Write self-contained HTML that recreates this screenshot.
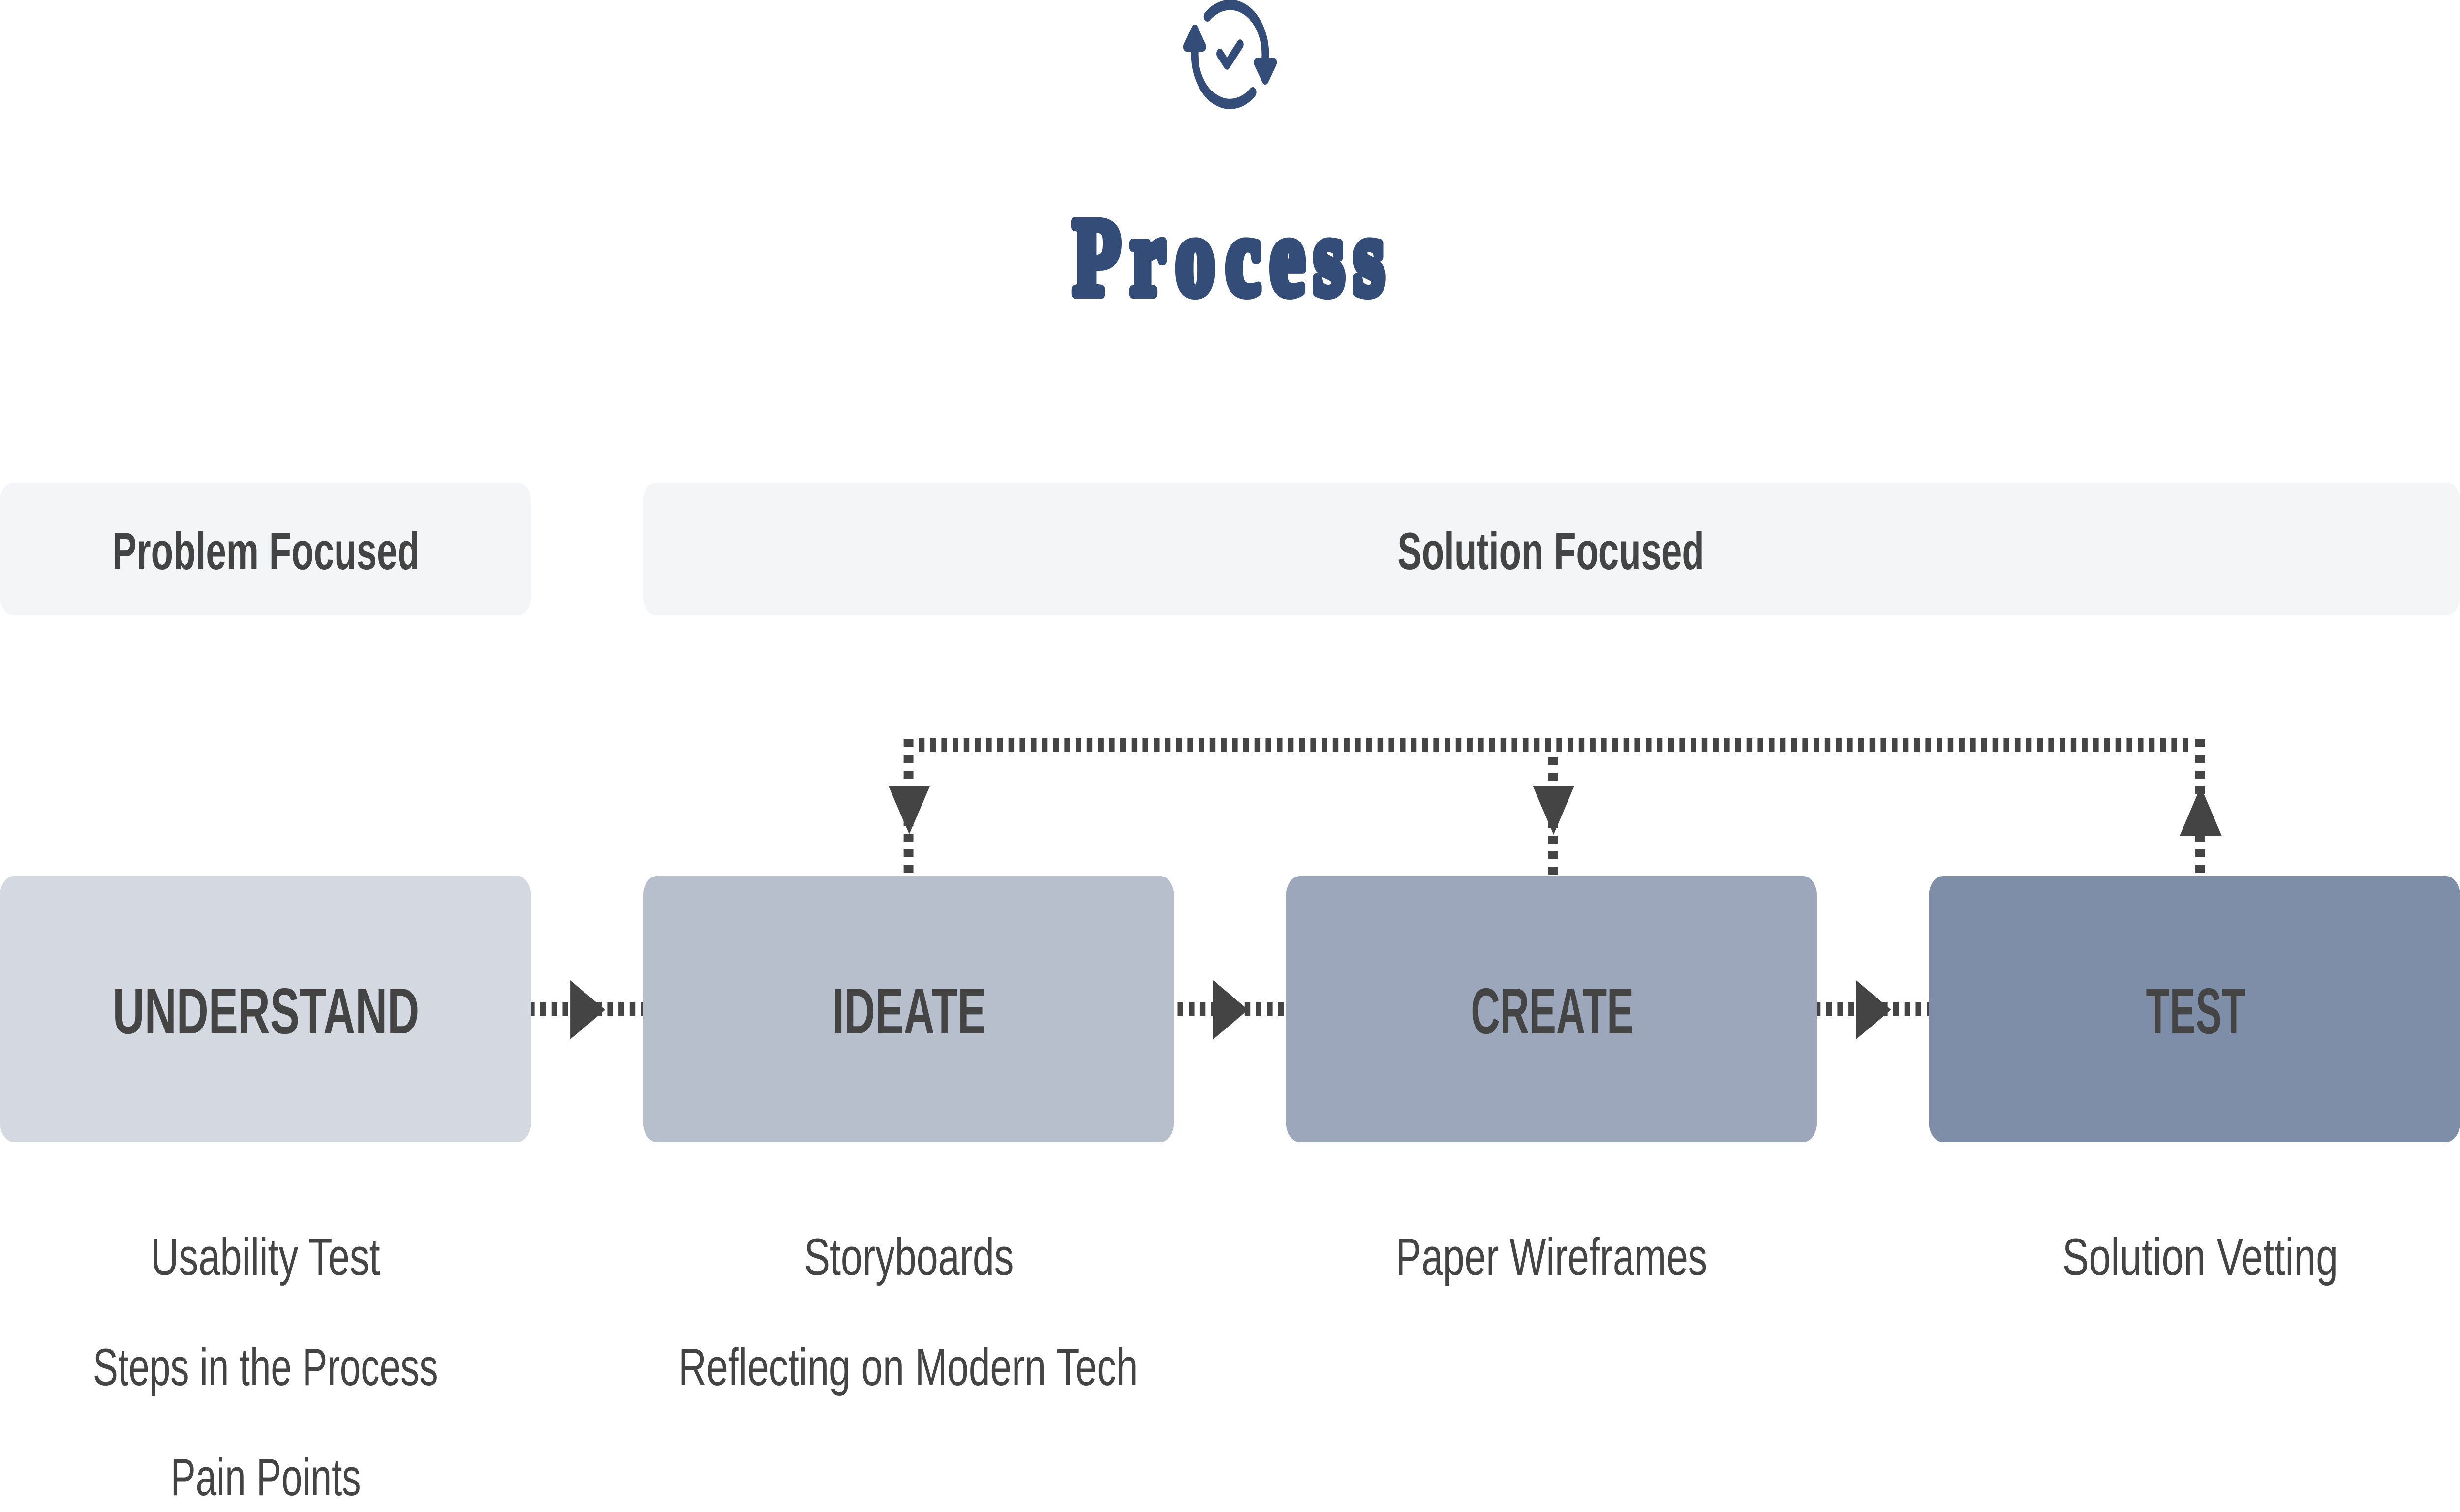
<!DOCTYPE html>
<html lang="en">
<head>
<meta charset="utf-8">
<title>Process</title>
<style>
html,body{margin:0;padding:0;background:#fff;width:100%;height:100%;overflow:hidden}
svg{display:block;position:absolute;left:0;top:0;width:100%;height:100%}
.b{font-family:"Liberation Sans",sans-serif;font-weight:700;fill:#444}
.r{font-family:"Liberation Sans",sans-serif;font-weight:400;fill:#444}
</style>
</head>
<body>
<svg xmlns="http://www.w3.org/2000/svg" viewBox="0 0 7040 3074" preserveAspectRatio="none">
<rect width="7040" height="3074" fill="#fff"/>

<!-- icon -->
<g fill="none" stroke="#344c78" stroke-linecap="round" stroke-linejoin="round">
  <path d="M3455.5 33.5 A101 101 0 0 1 3621 118" stroke-width="21"/>
  <path d="M3585 187.5 A101 101 0 0 1 3419 105" stroke-width="21"/>
  <polyline points="3490.7,109 3511.3,131.7 3549,90.3" stroke-width="20"/>
  <polygon points="3419,60 3442,95 3396,95" fill="#344c78" stroke-width="20"/>
  <polygon points="3621,162 3598,127 3644,127" fill="#344c78" stroke-width="20"/>
</g>

<!-- title -->
<text x="3071 3235 3365 3508 3635 3760 3875" y="597" font-family="'Liberation Serif',serif" font-weight="700" font-size="222" fill="#344c78" stroke="#344c78" stroke-width="20" stroke-linejoin="round">Process</text>

<!-- header bands -->
<rect x="0" y="981" width="1520" height="270" rx="38" fill="#f4f5f7"/>
<rect x="1840" y="981" width="5200" height="270" rx="38" fill="#f4f5f7"/>
<text class="b" x="321" y="1157" font-size="107" textLength="880" lengthAdjust="spacingAndGlyphs">Problem Focused</text>
<text class="b" x="3999" y="1157" font-size="107" textLength="878" lengthAdjust="spacingAndGlyphs">Solution Focused</text>

<!-- dashed connectors -->
<g fill="none" stroke="#444" stroke-dasharray="16 16">
  <line x1="1514" y1="2051" x2="1840" y2="2051" stroke-width="28"/>
  <line x1="3370" y1="2051" x2="3674" y2="2051" stroke-width="28"/>
  <line x1="5194" y1="2051" x2="5520" y2="2051" stroke-width="28"/>
  <line x1="2630" y1="1515" x2="6262" y2="1515" stroke-width="28"/>
  <line x1="2600" y1="1503" x2="2600" y2="1775" stroke-width="28"/>
  <line x1="4444" y1="1539" x2="4444" y2="1779" stroke-width="28"/>
  <line x1="6296" y1="1503" x2="6296" y2="1775" stroke-width="28"/>
</g>

<!-- arrowheads -->
<g fill="#444">
  <polygon points="1632,1993 1732,2053 1632,2113"/>
  <polygon points="3472,1993 3572,2053 3472,2113"/>
  <polygon points="5312,1993 5412,2053 5312,2113"/>
  <polygon points="2542,1597 2662,1597 2602,1696"/>
  <polygon points="4386,1597 4506,1597 4446,1697"/>
  <polygon points="6238,1699 6358,1699 6298,1599"/>
</g>

<!-- process boxes -->
<rect x="0" y="1781" width="1520" height="541" rx="40" fill="#d3d8e1"/>
<rect x="1840" y="1781" width="1520" height="541" rx="40" fill="#b7bfcd"/>
<rect x="3680" y="1781" width="1520" height="541" rx="40" fill="#9ca7bb"/>
<rect x="5520" y="1781" width="1520" height="541" rx="40" fill="#7f8ea8"/>

<text class="b" x="322" y="2101" font-size="132" textLength="878" lengthAdjust="spacingAndGlyphs">UNDERSTAND</text>
<text class="b" x="2382" y="2101" font-size="132" textLength="440" lengthAdjust="spacingAndGlyphs">IDEATE</text>
<text class="b" x="4209" y="2101" font-size="132" textLength="467" lengthAdjust="spacingAndGlyphs">CREATE</text>
<text class="b" x="6141" y="2101" font-size="132" textLength="285" lengthAdjust="spacingAndGlyphs">TEST</text>

<!-- labels -->
<text class="r" x="431" y="2592" font-size="107" textLength="657" lengthAdjust="spacingAndGlyphs">Usability Test</text>
<text class="r" x="266" y="2816" font-size="107" textLength="988" lengthAdjust="spacingAndGlyphs">Steps in the Process</text>
<text class="r" x="488" y="3040" font-size="107" textLength="545" lengthAdjust="spacingAndGlyphs">Pain Points</text>
<text class="r" x="2301" y="2592" font-size="107" textLength="600" lengthAdjust="spacingAndGlyphs">Storyboards</text>
<text class="r" x="1942" y="2816" font-size="107" textLength="1314" lengthAdjust="spacingAndGlyphs">Reflecting on Modern Tech</text>
<text class="r" x="3994" y="2592" font-size="107" textLength="892" lengthAdjust="spacingAndGlyphs">Paper Wireframes</text>
<text class="r" x="5902" y="2592" font-size="107" textLength="789" lengthAdjust="spacingAndGlyphs">Solution Vetting</text>
</svg>
</body>
</html>
